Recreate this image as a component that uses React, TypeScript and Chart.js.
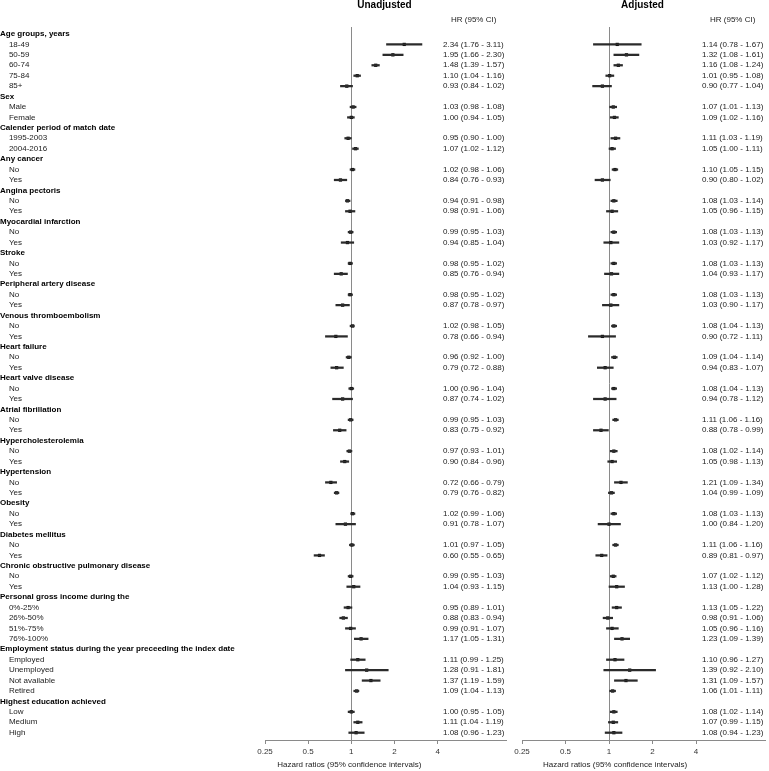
import React, { useEffect, useRef } from 'react';
import { Chart, registerables } from 'chart.js';

Chart.register(...registerables);

const FONT = "'Liberation Sans', Arial, Helvetica, sans-serif";
Chart.defaults.font.family = FONT;
Chart.defaults.font.size = 8;

// ---------- DATA ----------
const rowLabels: string[] = [
  'Age groups, years', '18-49', '50-59', '60-74', '75-84', '85+',
  'Sex', 'Male', 'Female',
  'Calender period of match date', '1995-2003', '2004-2016',
  'Any cancer', 'No', 'Yes',
  'Angina pectoris', 'No', 'Yes',
  'Myocardial infarction', 'No', 'Yes',
  'Stroke', 'No', 'Yes',
  'Peripheral artery disease', 'No', 'Yes',
  'Venous thromboembolism', 'No', 'Yes',
  'Heart failure', 'No', 'Yes',
  'Heart valve disease', 'No', 'Yes',
  'Atrial fibrillation', 'No', 'Yes',
  'Hypercholesterolemia', 'No', 'Yes',
  'Hypertension', 'No', 'Yes',
  'Obesity', 'No', 'Yes',
  'Diabetes mellitus', 'No', 'Yes',
  'Chronic obstructive pulmonary disease', 'No', 'Yes',
  'Personal gross income during the', '0%-25%', '26%-50%', '51%-75%', '76%-100%',
  'Employment status during the year preceeding the index date', 'Employed', 'Unemployed', 'Not available', 'Retired',
  'Highest education achieved', 'Low', 'Medium', 'High',
];

const headerRows: number[] = [0, 6, 9, 12, 15, 18, 21, 24, 27, 30, 33, 36, 39, 42, 45, 48, 51, 54, 59, 64];

type N = number | null;
const _ = null;

const unadjHR: N[] = [
  _, 2.34, 1.95, 1.48, 1.10, 0.93,
  _, 1.03, 1.00,
  _, 0.95, 1.07,
  _, 1.02, 0.84,
  _, 0.94, 0.98,
  _, 0.99, 0.94,
  _, 0.98, 0.85,
  _, 0.98, 0.87,
  _, 1.02, 0.78,
  _, 0.96, 0.79,
  _, 1.00, 0.87,
  _, 0.99, 0.83,
  _, 0.97, 0.90,
  _, 0.72, 0.79,
  _, 1.02, 0.91,
  _, 1.01, 0.60,
  _, 0.99, 1.04,
  _, 0.95, 0.88, 0.99, 1.17,
  _, 1.11, 1.28, 1.37, 1.09,
  _, 1.00, 1.11, 1.08,
];
const unadjLo: N[] = [
  _, 1.76, 1.66, 1.39, 1.04, 0.84,
  _, 0.98, 0.94,
  _, 0.90, 1.02,
  _, 0.98, 0.76,
  _, 0.91, 0.91,
  _, 0.95, 0.85,
  _, 0.95, 0.76,
  _, 0.95, 0.78,
  _, 0.98, 0.66,
  _, 0.92, 0.72,
  _, 0.96, 0.74,
  _, 0.95, 0.75,
  _, 0.93, 0.84,
  _, 0.66, 0.76,
  _, 0.99, 0.78,
  _, 0.97, 0.55,
  _, 0.95, 0.93,
  _, 0.89, 0.83, 0.91, 1.05,
  _, 0.99, 0.91, 1.19, 1.04,
  _, 0.95, 1.04, 0.96,
];
const unadjHi: N[] = [
  _, 3.11, 2.30, 1.57, 1.16, 1.02,
  _, 1.08, 1.05,
  _, 1.00, 1.12,
  _, 1.06, 0.93,
  _, 0.98, 1.06,
  _, 1.03, 1.04,
  _, 1.02, 0.94,
  _, 1.02, 0.97,
  _, 1.05, 0.94,
  _, 1.00, 0.88,
  _, 1.04, 1.02,
  _, 1.03, 0.92,
  _, 1.01, 0.96,
  _, 0.79, 0.82,
  _, 1.06, 1.07,
  _, 1.05, 0.65,
  _, 1.03, 1.15,
  _, 1.01, 0.94, 1.07, 1.31,
  _, 1.25, 1.81, 1.59, 1.13,
  _, 1.05, 1.19, 1.23,
];

const adjHR: N[] = [
  _, 1.14, 1.32, 1.16, 1.01, 0.90,
  _, 1.07, 1.09,
  _, 1.11, 1.05,
  _, 1.10, 0.90,
  _, 1.08, 1.05,
  _, 1.08, 1.03,
  _, 1.08, 1.04,
  _, 1.08, 1.03,
  _, 1.08, 0.90,
  _, 1.09, 0.94,
  _, 1.08, 0.94,
  _, 1.11, 0.88,
  _, 1.08, 1.05,
  _, 1.21, 1.04,
  _, 1.08, 1.00,
  _, 1.11, 0.89,
  _, 1.07, 1.13,
  _, 1.13, 0.98, 1.05, 1.23,
  _, 1.10, 1.39, 1.31, 1.06,
  _, 1.08, 1.07, 1.08,
];
const adjLo: N[] = [
  _, 0.78, 1.08, 1.08, 0.95, 0.77,
  _, 1.01, 1.02,
  _, 1.03, 1.00,
  _, 1.05, 0.80,
  _, 1.03, 0.96,
  _, 1.03, 0.92,
  _, 1.03, 0.93,
  _, 1.03, 0.90,
  _, 1.04, 0.72,
  _, 1.04, 0.83,
  _, 1.04, 0.78,
  _, 1.06, 0.78,
  _, 1.02, 0.98,
  _, 1.09, 0.99,
  _, 1.03, 0.84,
  _, 1.06, 0.81,
  _, 1.02, 1.00,
  _, 1.05, 0.91, 0.96, 1.09,
  _, 0.96, 0.92, 1.09, 1.01,
  _, 1.02, 0.99, 0.94,
];
const adjHi: N[] = [
  _, 1.67, 1.61, 1.24, 1.08, 1.04,
  _, 1.13, 1.16,
  _, 1.19, 1.11,
  _, 1.15, 1.02,
  _, 1.14, 1.15,
  _, 1.13, 1.17,
  _, 1.13, 1.17,
  _, 1.13, 1.17,
  _, 1.13, 1.11,
  _, 1.14, 1.07,
  _, 1.13, 1.12,
  _, 1.16, 0.99,
  _, 1.14, 1.13,
  _, 1.34, 1.09,
  _, 1.13, 1.20,
  _, 1.16, 0.97,
  _, 1.12, 1.28,
  _, 1.22, 1.06, 1.16, 1.39,
  _, 1.27, 2.10, 1.57, 1.11,
  _, 1.14, 1.15, 1.23,
];

const xTickValues: number[] = [0.25, 0.5, 1, 2, 4];
const axisTitle = 'Hazard ratios (95% confidence intervals)';
const colHeader = 'HR (95% CI)';

// ---------- HELPERS ----------
const isHeader = (i: number) => headerRows.includes(i);
const fmt = (v: number) => v.toFixed(2);
const tickRow = (c: any): number => {
  if (c && c.tick && typeof c.tick.value === 'number') return Math.round(c.tick.value);
  if (c && typeof c.index === 'number') return c.index;
  return 1;
};

interface PanelOpts {
  title: string;
  hr: N[];
  lo: N[];
  hi: N[];
  showLabels: boolean;
  padLeft: number;
  textOffset: number;
  axisTitleShift: number;
}

function makeConfig(p: PanelOpts): any {
  const idx = p.hr.map((v, i) => (v == null ? -1 : i)).filter((i) => i >= 0);
  const textPlugin = {
    id: 'panelText',
    afterDraw(chart: any) {
      const { ctx, chartArea, scales } = chart;
      const xs = scales.x;
      const ys = scales.y;
      ctx.save();
      ctx.fillStyle = '#000';
      ctx.font = `bold 10px ${FONT}`;
      ctx.textAlign = 'center';
      ctx.textBaseline = 'middle';
      ctx.fillText(p.title, (chartArea.left + chartArea.right) / 2 - 1, 5);

      ctx.font = `8px ${FONT}`;
      ctx.fillStyle = '#222';
      const tx = chartArea.left + p.textOffset;
      const w = ctx.measureText('0.00 (0.00 - 0.00)').width;
      ctx.textAlign = 'center';
      ctx.fillText(colHeader, tx + w / 2, 20);
      ctx.textAlign = 'left';
      idx.forEach((i) => {
        ctx.fillText(
          `${fmt(p.hr[i] as number)} (${fmt(p.lo[i] as number)} - ${fmt(p.hi[i] as number)})`,
          tx,
          ys.getPixelForValue(i)
        );
      });
      ctx.textAlign = 'center';
      ctx.fillText(axisTitle, xs.getPixelForValue(1) + p.axisTitleShift, 765);
      ctx.restore();
    },
  };

  return {
    type: 'bar',
    data: {
      datasets: [
        {
          type: 'bar',
          indexAxis: 'y',
          data: idx.map((i) => ({ x: [p.lo[i], p.hi[i]], y: i })),
          backgroundColor: '#2b2b2b',
          borderWidth: 0,
          barThickness: 1.6,
        },
        {
          type: 'scatter',
          data: idx.map((i) => ({ x: p.hr[i], y: i })),
          pointStyle: 'rect',
          pointRadius: 2.3,
          backgroundColor: '#000',
          borderColor: '#000',
          borderWidth: 0,
        },
      ],
    },
    options: {
      indexAxis: 'y',
      responsive: false,
      animation: false,
      events: [],
      layout: { padding: { top: 27, left: p.padLeft, right: 0, bottom: 0 } },
      plugins: { legend: { display: false }, tooltip: { enabled: false }, title: { display: false } },
      scales: {
        x: {
          type: 'logarithmic',
          position: 'bottom',
          min: 0.25,
          max: 12,
          offset: false,
          afterBuildTicks: (s: any) => {
            s.ticks = xTickValues.map((v) => ({ value: v }));
          },
          afterFit: (s: any) => {
            s.height = 31;
          },
          ticks: {
            autoSkip: false,
            maxRotation: 0,
            padding: 3,
            color: '#333',
            font: { size: 8, family: FONT },
            callback: (v: any) => String(v),
          },
          grid: {
            offset: false,
            drawOnChartArea: true,
            drawTicks: true,
            tickLength: 4,
            tickColor: '#8a8a8a',
            color: (c: any) => (c && c.tick && c.tick.value === 1 ? '#8a8a8a' : 'rgba(0,0,0,0)'),
            lineWidth: 1,
          },
          border: { display: true, color: '#8a8a8a', width: 1 },
        },
        y: {
          type: 'linear',
          position: 'left',
          reverse: true,
          bounds: 'data',
          offset: false,
          min: -0.67,
          max: 67.7,
          display: p.showLabels,
          afterBuildTicks: (s: any) => {
            s.ticks = rowLabels.map((_l, i) => ({ value: i }));
          },
          afterFit: (s: any) => {
            s.width = p.showLabels ? 265 : 0;
          },
          ticks: {
            autoSkip: false,
            crossAlign: 'far',
            padding: 0,
            callback: (v: any) => {
              const i = Math.round(v);
              return isHeader(i) ? rowLabels[i] : '    ' + rowLabels[i];
            },
            color: (c: any) => (isHeader(tickRow(c)) ? '#000' : '#222'),
            font: (c: any) => ({
              family: FONT,
              size: 8,
              weight: isHeader(tickRow(c)) ? 'bold' : 'normal',
            }),
          },
          grid: { display: false, drawTicks: false, offset: false },
          border: { display: false },
        },
      },
    },
    plugins: [textPlugin],
  };
}

export default function App() {
  const leftRef = useRef<HTMLCanvasElement>(null);
  const rightRef = useRef<HTMLCanvasElement>(null);

  useEffect(() => {
    const c1 = new Chart(
      leftRef.current as HTMLCanvasElement,
      makeConfig({
        title: 'Unadjusted',
        hr: unadjHR,
        lo: unadjLo,
        hi: unadjHi,
        showLabels: true,
        padLeft: 0,
        textOffset: 178,
        axisTitleShift: -2,
      })
    );
    const c2 = new Chart(
      rightRef.current as HTMLCanvasElement,
      makeConfig({
        title: 'Adjusted',
        hr: adjHR,
        lo: adjLo,
        hi: adjHi,
        showLabels: false,
        padLeft: 12,
        textOffset: 180,
        axisTitleShift: 6,
      })
    );
    return () => {
      c1.destroy();
      c2.destroy();
    };
  }, []);

  return (
    <div style={{ position: 'absolute', left: 0, top: 0, width: 769, height: 771, background: '#fff' }}>
      <canvas ref={leftRef} width={510} height={771} style={{ position: 'absolute', left: 0, top: 0 }} />
      <canvas ref={rightRef} width={259} height={771} style={{ position: 'absolute', left: 510, top: 0 }} />
    </div>
  );
}
